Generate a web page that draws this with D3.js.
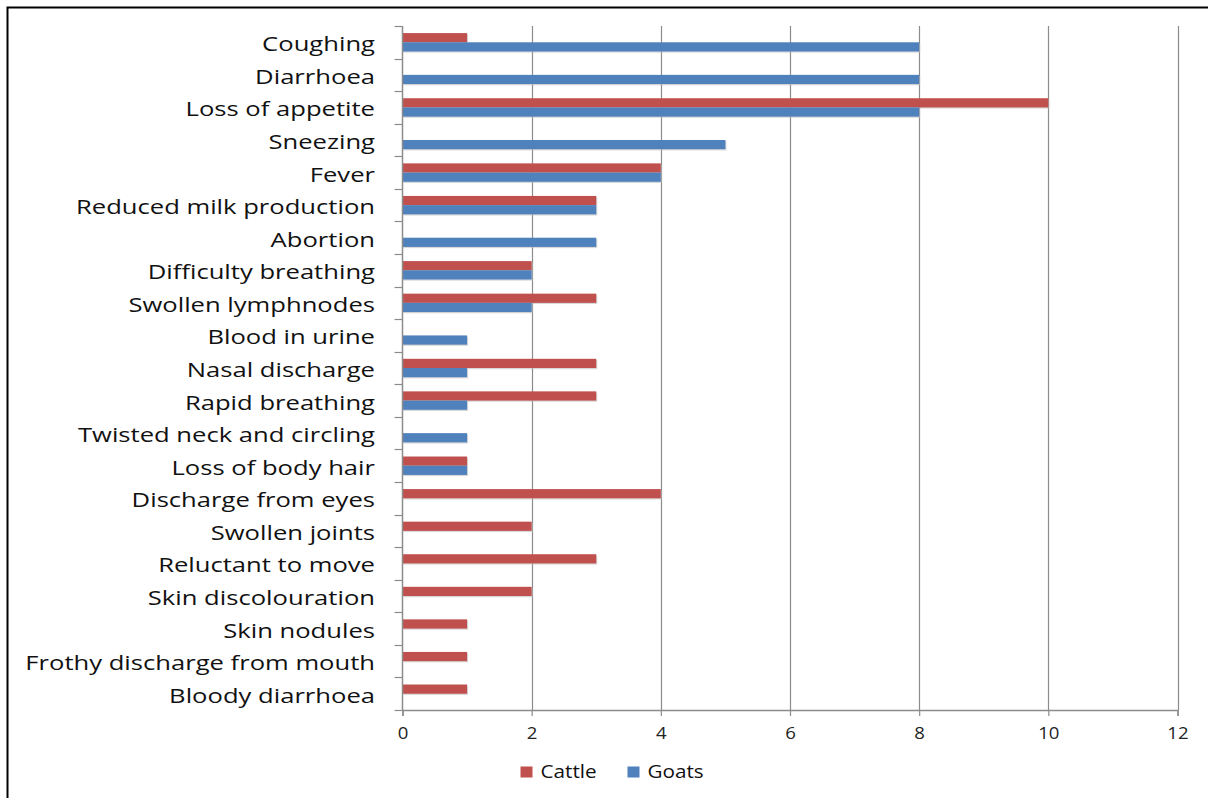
<!DOCTYPE html>
<html><head><meta charset="utf-8">
<script src="https://cdn.jsdelivr.net/npm/d3@7"></script>
<style>body{margin:0;background:#fff;}svg{display:block;}</style>
</head><body>
<svg id="c" width="1208" height="798"></svg>
<script>
const categories = ["Coughing","Diarrhoea","Loss of appetite","Sneezing","Fever","Reduced milk production","Abortion","Difficulty breathing","Swollen lymphnodes","Blood in urine","Nasal discharge","Rapid breathing","Twisted neck and circling","Loss of body hair","Discharge from eyes","Swollen joints","Reluctant to move","Skin discolouration","Skin nodules","Frothy discharge from mouth","Bloody diarrhoea"];
const cattle = [1,0,10,0,4,3,0,2,3,0,3,3,0,1,4,2,3,2,1,1,1];
const goats  = [8,8,8,5,4,3,3,2,2,1,1,1,1,1,0,0,0,0,0,0,0];
const seriesNames = ["Cattle","Goats"];
const seriesColors = ["#C0504D","#4F81BD"];
const xTicks = [0,2,4,6,8,10,12];

const svg = d3.select("#c");
const font = "'Open Sans', sans-serif";
// border
svg.append("path").attr("d","M7.5,798 V7.5 H1208").attr("fill","none").attr("stroke","#000").attr("stroke-width",2);

const L=402.5, R=1177.5, T=26, B=710;
const x = d3.scaleLinear().domain([0,12]).range([L,R]);
const y = d3.scaleBand().domain(categories).range([T,B]);
const inner = d3.scaleBand().domain(seriesNames).range([0,y.bandwidth()]).paddingOuter(0.77).paddingInner(0);

// gridlines
svg.append("g").selectAll("line").data(xTicks.slice(1)).join("line")
  .attr("x1",d=>Math.round(x(d))+0.5).attr("x2",d=>Math.round(x(d))+0.5).attr("y1",T).attr("y2",B)
  .attr("stroke","#8c8c8c").attr("stroke-width",1.2);

// bars
const data = [];
categories.forEach((c,i)=>{ data.push({c,s:"Cattle",v:cattle[i]}); data.push({c,s:"Goats",v:goats[i]}); });
const bars = data.filter(d=>d.v>0);
svg.append("g").selectAll("rect.sh").data(bars).join("rect")
  .attr("x",x(0)+1).attr("y",d=>y(d.c)+inner(d.s)+1.2)
  .attr("width",d=>x(d.v)-x(0)).attr("height",inner.bandwidth())
  .attr("fill","#bdbdbd").attr("opacity",0.6);
svg.append("g").selectAll("rect.b").data(bars).join("rect")
  .attr("x",x(0)).attr("y",d=>y(d.c)+inner(d.s))
  .attr("width",d=>x(d.v)-x(0)).attr("height",inner.bandwidth())
  .attr("fill",d=>seriesColors[seriesNames.indexOf(d.s)]);

// y axis
const yTickPos = d3.range(categories.length+1).map(i=>T+i*y.step());
svg.append("line").attr("x1",L).attr("x2",L).attr("y1",T).attr("y2",B).attr("stroke","#8c8c8c").attr("stroke-width",1.5);
svg.append("g").selectAll("line").data(yTickPos).join("line")
  .attr("x1",L-8).attr("x2",L).attr("y1",d=>Math.round(d)+0.5).attr("y2",d=>Math.round(d)+0.5)
  .attr("stroke","#8c8c8c").attr("stroke-width",1.2);
svg.append("g").selectAll("text").data(categories).join("text")
  .attr("transform",d=>`translate(375,${y(d)+y.bandwidth()/2}) scale(1.28,1)`).attr("dy","0.45em")
  .attr("text-anchor","end").attr("font-family",font).attr("font-size",20).attr("fill","#111")
  .text(d=>d);

// x axis
const xAxis = d3.axisBottom(x).tickValues(xTicks).tickSize(6).tickPadding(12);
const gx = svg.append("g").attr("transform",`translate(0,${B})`).call(xAxis);
gx.select(".domain").attr("stroke","#8c8c8c").attr("stroke-width",1.5);
gx.selectAll(".tick line").attr("stroke","#8c8c8c").attr("stroke-width",1.2);
gx.selectAll(".tick text").attr("font-family",font).attr("font-size",15.5).attr("fill","#222")
  .attr("transform","scale(1.2,1)");

// legend
const legX = [520.5,627.5];
seriesNames.forEach((s,i)=>{
  svg.append("rect").attr("x",legX[i]).attr("y",766.5).attr("width",12).attr("height",11).attr("fill",seriesColors[i]);
  svg.append("text").attr("transform",`translate(${legX[i]+20},772) scale(1.15,1)`).attr("dy","0.35em")
    .attr("font-family",font).attr("font-size",18).attr("fill","#111").text(s);
});
</script>
</body></html>
